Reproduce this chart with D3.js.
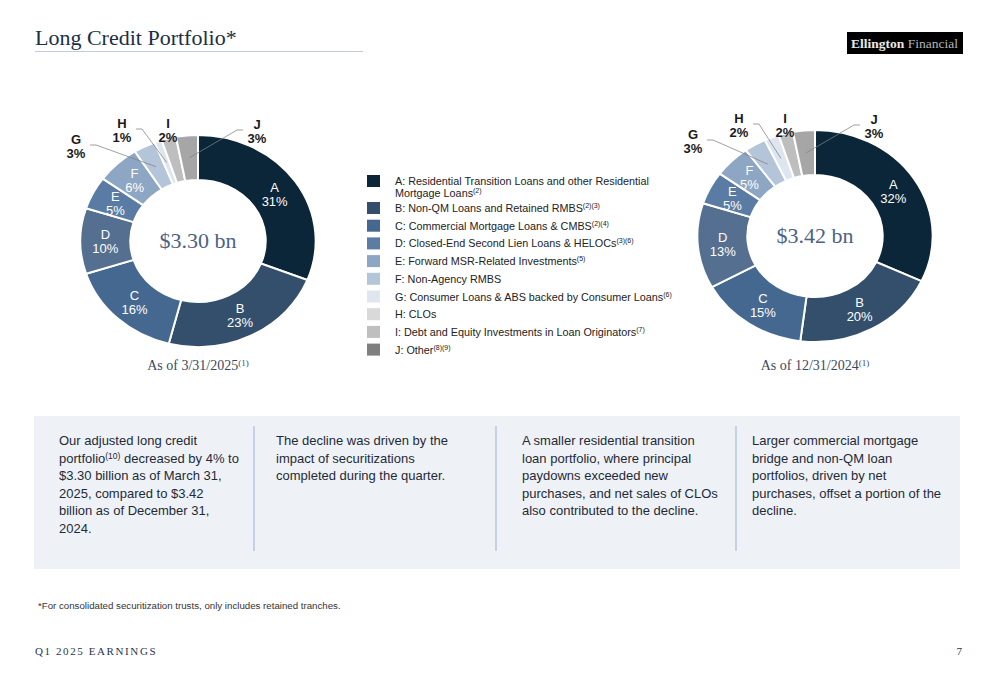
<!DOCTYPE html>
<html>
<head>
<meta charset="utf-8">
<script src="https://cdn.jsdelivr.net/npm/d3@7"></script>
<style>
  body { margin: 0; background: #fff; }
  svg { display: block; }
</style>
</head>
<body>
<svg id="page" width="1000" height="685"></svg>
<script>
var categories = ['A', 'B', 'C', 'D', 'E', 'F', 'G', 'H', 'I', 'J'];
var mar2025 = [31, 23, 16, 10, 5, 6, 3, 1, 2, 3];
var dec2024 = [32, 20, 15, 13, 5, 5, 3, 2, 2, 3];
var totals = ['$3.30 bn', '$3.42 bn'];
var captions = ['As of 3/31/2025{(1)}', 'As of 12/31/2024{(1)}'];

var legendLines = [
  ['A: Residential Transition Loans and other Residential', 'Mortgage Loans{(2)}'],
  ['B: Non-QM Loans and Retained RMBS{(2)(3)}'],
  ['C: Commercial Mortgage Loans & CMBS{(2)(4)}'],
  ['D: Closed-End Second Lien Loans & HELOCs{(3)(6)}'],
  ['E: Forward MSR-Related Investments{(5)}'],
  ['F: Non-Agency RMBS'],
  ['G: Consumer Loans & ABS backed by Consumer Loans{(6)}'],
  ['H: CLOs'],
  ['I: Debt and Equity Investments in Loan Originators{(7)}'],
  ['J: Other{(8)(9)}']
];

var sliceColors = ['#0b2539', '#344f6c', '#456891', '#556f90', '#5a7ba3', '#8da6c4', '#b5c5d9', '#dde5ef', '#bebebe', '#a6a6a6'];
var legendColors = ['#0b2539', '#344f6c', '#456891', '#5b7ca4', '#8da6c4', '#b5c5d9', '#dfe6ef', '#d9d9d9', '#bfbfbf', '#7f7f7f'];

var notes = [
  ['Our adjusted long credit', 'portfolio{(10)} decreased by 4% to', '$3.30 billion as of March 31,', '2025, compared to $3.42', 'billion as of December 31,', '2024.'],
  ['The decline was driven by the', 'impact of securitizations', 'completed during the quarter.'],
  ['A smaller residential transition', 'loan portfolio, where principal', 'paydowns exceeded new', 'purchases, and net sales of CLOs', 'also contributed to the decline.'],
  ['Larger commercial mortgage', 'bridge and non-QM loan', 'portfolios, driven by net', 'purchases, offset a portion of the', 'decline.']
];

var SANS = '"Liberation Sans", Arial, sans-serif';
var SERIF = '"Liberation Serif", "Times New Roman", serif';

// small slices get labels outside, placed like the slide does
var callouts = {
  G: { dx: -122, dy: -95, side: 1 },
  H: { dx: -76, dy: -111, side: 1 },
  I: { dx: -30, dy: -111, side: 0 },
  J: { dx: 59, dy: -110, side: -1 }
};

var svg = d3.select('#page');

// text with {superscript} parts
function richText(sel, str, supSize) {
    var parts = str.split(/(\{[^}]*\})/).filter(function(p) { return p; });
    var shift = 0;
    parts.forEach(function(p) {
        if (p[0] == '{') {
            sel.append('tspan').attr('dy', -4 - shift).attr('font-size', supSize).text(p.slice(1, -1));
            shift = -4;
        } else {
            sel.append('tspan').attr('dy', -shift).text(p);
            shift = 0;
        }
    });
}

function drawHeader() {
    svg.append('text')
        .attr('x', 35).attr('y', 45)
        .attr('font-family', SERIF).attr('font-size', 22).attr('fill', '#1b2f45')
        .text('Long Credit Portfolio*');
    svg.append('line')
        .attr('x1', 35).attr('x2', 363).attr('y1', 51.5).attr('y2', 51.5)
        .attr('stroke', '#c3ccd8').attr('stroke-width', 1);

    var logo = svg.append('g');
    logo.append('rect').attr('x', 847).attr('y', 32).attr('width', 116).attr('height', 22).attr('fill', '#000');
    var t = logo.append('text').attr('x', 851).attr('y', 47.5).attr('font-family', SERIF).attr('font-size', 13.5);
    t.append('tspan').attr('font-weight', 'bold').attr('fill', '#e8e8e8').text('Ellington');
    t.append('tspan').attr('fill', '#b5b5b5').text(' Financial');
}

function drawDonut(values, cx, cy, total, caption) {
    var sx = 1.11, rOuter = 106, rInner = 61;
    var pie = d3.pie().sort(null).value(function(d) { return d; });
    var arc = d3.arc().innerRadius(rInner).outerRadius(rOuter);
    var arcs = pie(values);

    var g = svg.append('g').attr('transform', 'translate(' + cx + ',' + cy + ')');
    g.append('g').attr('transform', 'scale(' + sx + ',1)')
        .selectAll('path').data(arcs).enter().append('path')
        .attr('d', arc)
        .attr('fill', function(d, i) { return sliceColors[i]; })
        .attr('stroke', '#fff').attr('stroke-width', 2)
        .attr('vector-effect', 'non-scaling-stroke');

    arcs.forEach(function(d, i) {
        var c = arc.centroid(d);
        var px = c[0] * sx, py = c[1];
        var cat = categories[i];
        var co = callouts[cat];
        var lx = px, ly = py, fill = '#fff';
        if (co) {
            lx = co.dx; ly = co.dy; fill = '#1a1a1a';
            if (co.side) {
                var pts = [[lx + co.side * 14, ly - 1], [lx + co.side * 20, ly - 1], [px, py]];
                g.append('polyline')
                    .attr('points', pts.map(function(p) { return p.join(','); }).join(' '))
                    .attr('fill', 'none').attr('stroke', '#808080').attr('stroke-width', 0.75);
            }
        }
        var txt = g.append('text')
            .attr('text-anchor', 'middle')
            .attr('font-family', SANS).attr('font-size', 13).attr('font-weight', co ? 'bold' : 'normal')
            .attr('fill', fill);
        txt.append('tspan').attr('x', lx).attr('y', ly - 2).text(cat);
        txt.append('tspan').attr('x', lx).attr('y', ly + 12).text(d.data + '%');
    });

    g.append('text')
        .attr('text-anchor', 'middle').attr('y', 7)
        .attr('font-family', SERIF).attr('font-size', 22).attr('fill', '#4b6286')
        .text(total);

    var cap = svg.append('text')
        .attr('x', cx).attr('y', 370).attr('text-anchor', 'middle')
        .attr('font-family', SERIF).attr('font-size', 14).attr('fill', '#3a4a5e');
    richText(cap, caption, 9);
}

function drawLegend() {
    var lg = svg.append('g');
    var y = 175;
    legendLines.forEach(function(lines, i) {
        lg.append('rect').attr('x', 367).attr('y', y).attr('width', 13).attr('height', 12)
            .attr('fill', legendColors[i]);
        lines.forEach(function(line, j) {
            var t = lg.append('text')
                .attr('x', 395).attr('y', y + 10 + j * 12)
                .attr('font-family', SANS).attr('font-size', 10.8).attr('fill', '#222');
            richText(t, line, 7);
        });
        y += lines.length > 1 ? 27 : 17.7;
    });
}

function drawNotes() {
    svg.append('rect').attr('x', 34).attr('y', 416).attr('width', 926).attr('height', 153).attr('fill', '#eef2f6');
    var colX = [59, 276, 522, 752];
    var divX = [254, 496, 736];
    divX.forEach(function(x) {
        svg.append('line').attr('x1', x).attr('x2', x).attr('y1', 426).attr('y2', 551)
            .attr('stroke', '#a9bcd3').attr('stroke-width', 1.2);
    });
    notes.forEach(function(lines, i) {
        lines.forEach(function(line, j) {
            var t = svg.append('text')
                .attr('x', colX[i]).attr('y', 445 + j * 17.5)
                .attr('font-family', SANS).attr('font-size', 13).attr('fill', '#1e2a38');
            richText(t, line, 8.5);
        });
    });
}

function drawFooter() {
    svg.append('text').attr('x', 38).attr('y', 609)
        .attr('font-family', SANS).attr('font-size', 9.7).attr('fill', '#333')
        .text('*For consolidated securitization trusts, only includes retained tranches.');
    svg.append('text').attr('x', 35).attr('y', 655)
        .attr('font-family', SERIF).attr('font-size', 11).attr('letter-spacing', 1.6).attr('fill', '#1f3550')
        .text('Q1 2025 EARNINGS');
    svg.append('text').attr('x', 962).attr('y', 655).attr('text-anchor', 'end')
        .attr('font-family', SERIF).attr('font-size', 11).attr('fill', '#1f3550')
        .text('7');
}

drawHeader();
drawDonut(mar2025, 198, 241, totals[0], captions[0]);
drawDonut(dec2024, 815, 236, totals[1], captions[1]);
drawLegend();
drawNotes();
drawFooter();
</script>
</body>
</html>
